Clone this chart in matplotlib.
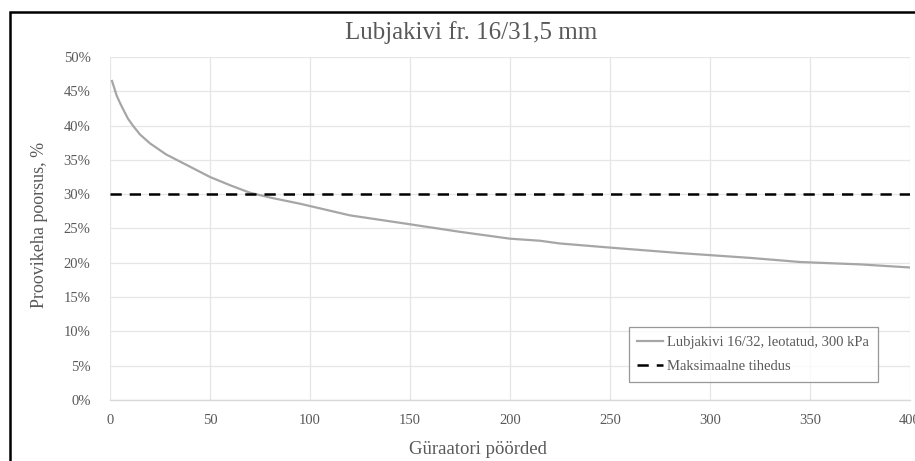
import matplotlib.pyplot as plt
from matplotlib.patches import Rectangle
from matplotlib.ticker import FuncFormatter

revolutions = [1, 2, 3.3, 5, 6.7, 9, 11.7, 15, 20, 28, 40, 50, 60, 70, 80, 95,
               120, 150, 175, 200, 215, 225, 250, 285, 300, 320, 345, 375, 400]
porosity = [46.5, 45.6, 44.4, 43.3, 42.3, 41.0, 39.9, 38.7, 37.4, 35.8, 34.0, 32.5,
            31.3, 30.2, 29.5, 28.6, 26.9, 25.6, 24.5, 23.5, 23.2, 22.8, 22.2, 21.4,
            21.1, 20.7, 20.1, 19.75, 19.3]
max_density = 30.0

series_label = "Lubjakivi 16/32, leotatud, 300 kPa"
limit_label = "Maksimaalne tihedus"
title = "Lubjakivi fr. 16/31,5 mm"
xlabel = "Güraatori pöörded"
ylabel = "Proovikeha poorsus, %"

plt.rcParams['font.family'] = ['Liberation Serif', 'DejaVu Serif']
txt = "#595959"

fig = plt.figure(figsize=(9.15, 4.61), dpi=100)
W, H = 915, 461
ax = fig.add_axes([110 / W, 1 - 399.8 / H, 800 / W, 342.8 / H])

ax.plot(revolutions, porosity, color="#a6a6a6", linewidth=1.6, label=series_label)
ax.axhline(max_density, color="black", linewidth=1.8, dashes=(4.5, 3.2),
           label=limit_label)

ax.set_xlim(0, 400)
ax.set_ylim(0, 50)
ax.set_xticks(range(0, 401, 50))
ax.set_yticks(range(0, 51, 5))
ax.yaxis.set_major_formatter(FuncFormatter(lambda v, p: f"{int(v)}%"))
ax.tick_params(length=0, labelsize=10.5, labelcolor=txt)
ax.tick_params(axis='x', pad=10)
ax.tick_params(axis='y', pad=14)
ax.grid(color="#e6e6e6", linewidth=0.9)
ax.set_axisbelow(True)
for side in ['top', 'right', 'left']:
    ax.spines[side].set_visible(False)
ax.spines['bottom'].set_color("#d9d9d9")
ax.spines['bottom'].set_linewidth(1.0)

fig.text(471 / W, 1 - 33 / H, title, ha='center', va='center', fontsize=18, color=txt)
fig.text(478 / W, 1 - 449 / H, xlabel, ha='center', va='center', fontsize=13.5, color=txt)
fig.text(40 / W, 1 - 225 / H, ylabel, ha='center', va='center', fontsize=13,
         color=txt, rotation=90)

leg = ax.legend(loc='lower right', bbox_to_anchor=(0.96, 0.052), fontsize=10.5,
                frameon=True, fancybox=False, edgecolor="#7f7f7f",
                handlelength=1.75, handletextpad=0.3, borderpad=0.6,
                labelspacing=0.75, borderaxespad=0)
leg.get_frame().set_linewidth(0.9)
for t in leg.get_texts():
    t.set_color(txt)

# black frame round the chart, cut off at right and bottom
fig.patches.append(Rectangle((9.5 / W, -0.1), 1.1, 1.1 - 12.5 / H,
                             transform=fig.transFigure, fill=False,
                             edgecolor="black", linewidth=1.8))

fig.savefig("out.png", dpi=100)
